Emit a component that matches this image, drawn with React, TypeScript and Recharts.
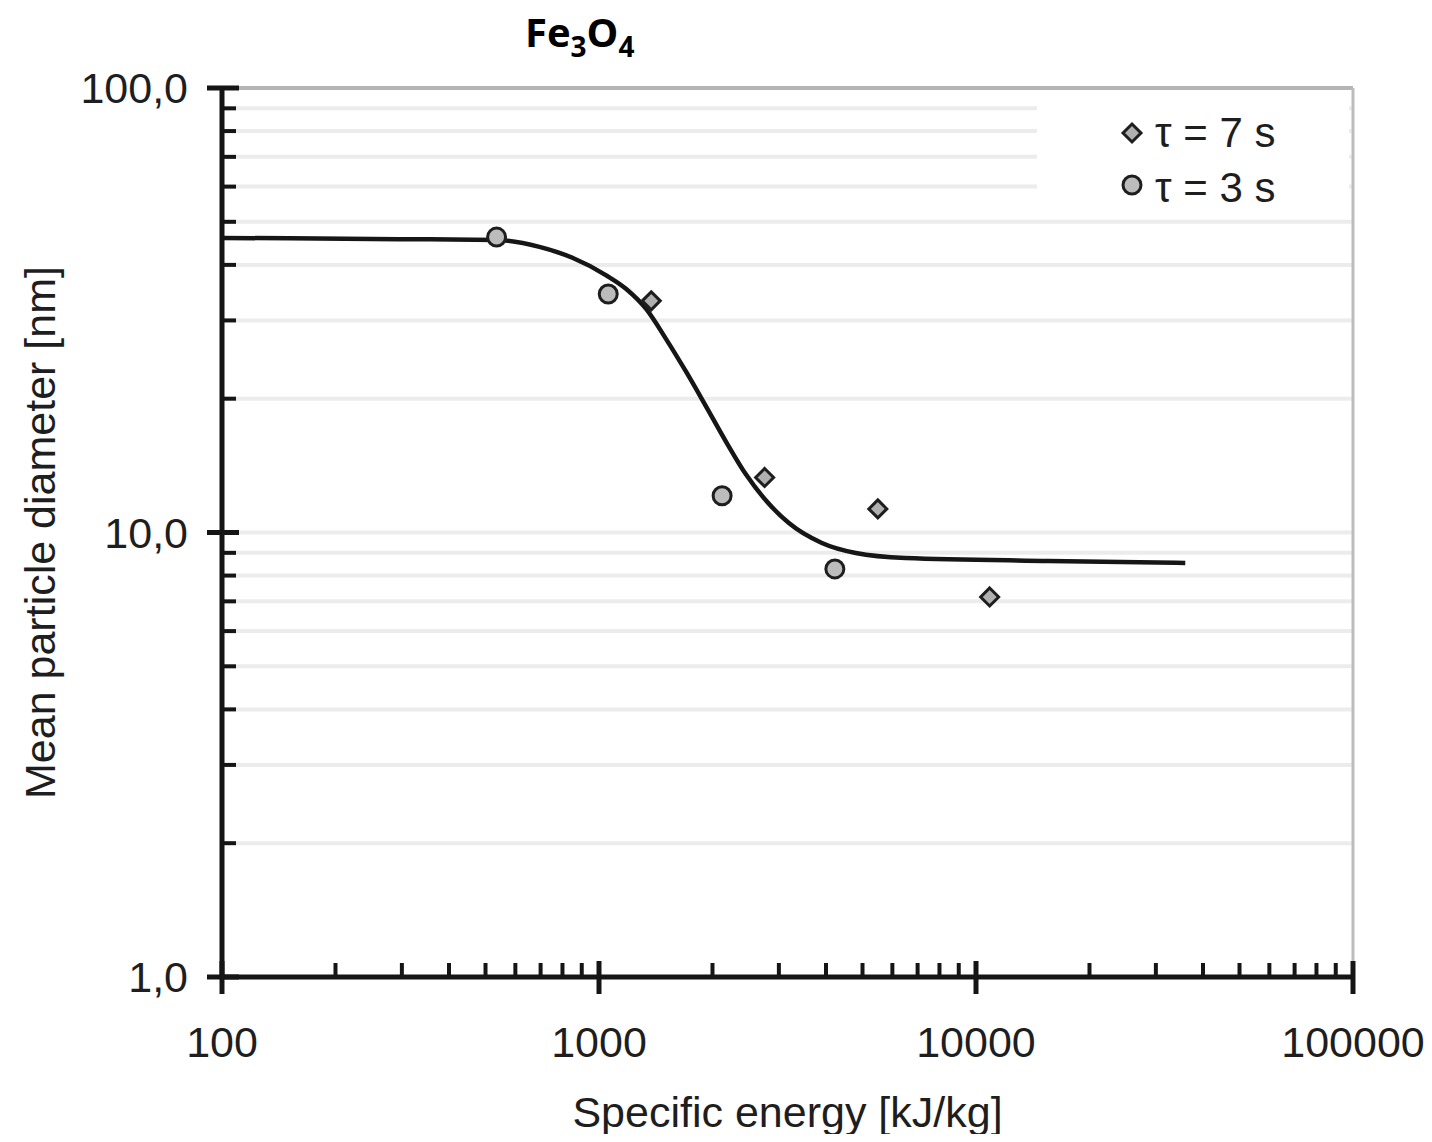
import React from 'react';
import {
  ComposedChart,
  Line,
  Scatter,
  XAxis,
  YAxis,
  CartesianGrid,
  ReferenceLine,
  Legend,
  Label,
} from 'recharts';

// fitted curve (specific energy kJ/kg -> mean diameter nm)
const curveEnergy = [100, 296, 535, 695, 850, 1045, 1181, 1335, 1508, 1702, 1924, 2173, 2455, 2773, 3189, 3901, 4800, 6510, 15560, 35900];
const curveDiameter = [46.0, 45.7, 45.5, 43.9, 41.5, 37.9, 35.3, 31.8, 27.2, 23.0, 19.2, 16.0, 13.5, 11.8, 10.5, 9.47, 8.99, 8.76, 8.63, 8.54];

// tau = 7 s (diamonds)
const tau7Energy = [1376, 2750, 5490, 10870];
const tau7Diameter = [33.2, 13.3, 11.3, 7.16];

// tau = 3 s (circles)
const tau3Energy = [535, 1058, 2121, 4223];
const tau3Diameter = [46.2, 34.4, 12.1, 8.28];

const xTicks = [100, 200, 300, 400, 500, 600, 700, 800, 900, 1000, 2000, 3000, 4000, 5000, 6000, 7000, 8000, 9000, 10000, 20000, 30000, 40000, 50000, 60000, 70000, 80000, 90000, 100000];
const yTicks = [1, 2, 3, 4, 5, 6, 7, 8, 9, 10, 20, 30, 40, 50, 60, 70, 80, 90, 100];

const curve = curveEnergy.map((x, i) => ({ x, y: curveDiameter[i] }));
const tau7 = tau7Energy.map((x, i) => ({ x, y: tau7Diameter[i] }));
const tau3 = tau3Energy.map((x, i) => ({ x, y: tau3Diameter[i] }));

const FONT = '"Liberation Sans", Arial, sans-serif';
const isMajor = (v: number) => Math.abs(Math.log10(v) - Math.round(Math.log10(v))) < 1e-9;

const XTick = (props: any) => {
  const { x, y, payload } = props;
  const v = payload.value;
  const major = isMajor(v);
  return (
    <g>
      {major ? (
        <line x1={x} x2={x} y1={y - 16} y2={y + 17} stroke="#151515" strokeWidth={5} />
      ) : (
        <line x1={x} x2={x} y1={y - 14} y2={y} stroke="#151515" strokeWidth={4} />
      )}
      {major && (
        <text x={x} y={y + 80} textAnchor="middle" fontSize={43} fill="#1e1e1e" fontFamily={FONT}>
          {v}
        </text>
      )}
    </g>
  );
};

const YTick = (props: any) => {
  const { x, y, payload } = props;
  const v = payload.value;
  const major = isMajor(v);
  return (
    <g>
      {major ? (
        <line x1={x - 15} x2={x + 17} y1={y} y2={y} stroke="#151515" strokeWidth={5} />
      ) : (
        <line x1={x} x2={x + 14} y1={y} y2={y} stroke="#151515" strokeWidth={4} />
      )}
      {major && (
        <text x={x - 34} y={y} textAnchor="end" dominantBaseline="central" fontSize={43} fill="#1e1e1e" fontFamily={FONT}>
          {v.toFixed(1).replace('.', ',')}
        </text>
      )}
    </g>
  );
};

const Diamond = (props: any) => {
  const { cx, cy } = props;
  const r = 9;
  return (
    <polygon
      points={`${cx},${cy - r} ${cx + r},${cy} ${cx},${cy + r} ${cx - r},${cy}`}
      fill="#b0b0b0"
      stroke="#1e1e1e"
      strokeWidth={3}
    />
  );
};

const Circle = (props: any) => {
  const { cx, cy } = props;
  return <circle cx={cx} cy={cy} r={9} fill="#bcbcbc" stroke="#1e1e1e" strokeWidth={3} />;
};

const LegendBox = () => (
  <svg width={312} height={115} style={{ display: 'block' }}>
    <rect x={0} y={0} width={312} height={115} fill="#fff" />
    <Diamond cx={95} cy={38} />
    <text x={118} y={52} fontSize={42} fill="#1e1e1e" fontFamily={FONT}>τ = 7 s</text>
    <Circle cx={95} cy={90} />
    <text x={118} y={107} fontSize={42} fill="#1e1e1e" fontFamily={FONT}>τ = 3 s</text>
  </svg>
);

export default function App() {
  return (
    <div style={{ position: 'relative', margin: -8, width: 1432, height: 1142, background: '#fff' }}>
      <div
        style={{
          position: 'absolute',
          left: 525,
          top: 12,
          fontFamily: '"Open Sans", sans-serif',
          fontWeight: 700,
          fontSize: 40,
          lineHeight: 1,
          color: '#000',
          zIndex: 2,
        }}
      >
        Fe
        <span style={{ fontSize: 28, position: 'relative', top: 10 }}>3</span>
        O
        <span style={{ fontSize: 28, position: 'relative', top: 10 }}>4</span>
      </div>
      <ComposedChart width={1432} height={1142} margin={{ top: 88, right: 79, bottom: 0, left: 0 }}>
        <CartesianGrid horizontal vertical={false} stroke="#ececec" strokeWidth={4} />
        <XAxis
          type="number"
          dataKey="x"
          scale="log"
          domain={[100, 100000]}
          ticks={xTicks}
          interval={0}
          allowDataOverflow
          height={165}
          tickSize={0}
          tickMargin={0}
          tickLine={false}
          tick={<XTick />}
          axisLine={{ stroke: '#151515', strokeWidth: 5 }}
        >
          <Label
            content={(p: any) => {
              const vb = p.viewBox;
              return (
                <text x={vb.x + vb.width / 2} y={1127} textAnchor="middle" fontSize={43} fill="#1e1e1e" fontFamily={FONT}>
                  Specific energy [kJ/kg]
                </text>
              );
            }}
          />
        </XAxis>
        <YAxis
          type="number"
          dataKey="y"
          scale="log"
          domain={[1, 100]}
          ticks={yTicks}
          interval={0}
          allowDataOverflow
          width={222}
          tickSize={0}
          tickMargin={0}
          tickLine={false}
          tick={<YTick />}
          axisLine={{ stroke: '#151515', strokeWidth: 5 }}
        >
          <Label
            content={(p: any) => {
              const vb = p.viewBox;
              const cy = vb.y + vb.height / 2;
              return (
                <text
                  x={40}
                  y={cy}
                  transform={`rotate(-90 40 ${cy})`}
                  textAnchor="middle"
                  dominantBaseline="central"
                  fontSize={43}
                  fill="#1e1e1e"
                  fontFamily={FONT}
                >
                  Mean particle diameter [nm]
                </text>
              );
            }}
          />
        </YAxis>
        <ReferenceLine y={100} stroke="#b5b5b5" strokeWidth={4} />
        <ReferenceLine x={100000} stroke="#bdbdbd" strokeWidth={3} />
        <Line
          data={curve}
          dataKey="y"
          type="monotone"
          stroke="#161616"
          strokeWidth={4.5}
          dot={false}
          activeDot={false}
          isAnimationActive={false}
          legendType="none"
        />
        <Scatter name="τ = 7 s" data={tau7} dataKey="y" shape={<Diamond />} isAnimationActive={false} />
        <Scatter name="τ = 3 s" data={tau3} dataKey="y" shape={<Circle />} isAnimationActive={false} />
        <Legend
          layout="vertical"
          verticalAlign="middle"
          align="center"
          content={() => <LegendBox />}
          wrapperStyle={{ position: 'absolute', left: 1037, top: 95, width: 312, height: 115 }}
        />
      </ComposedChart>
    </div>
  );
}
